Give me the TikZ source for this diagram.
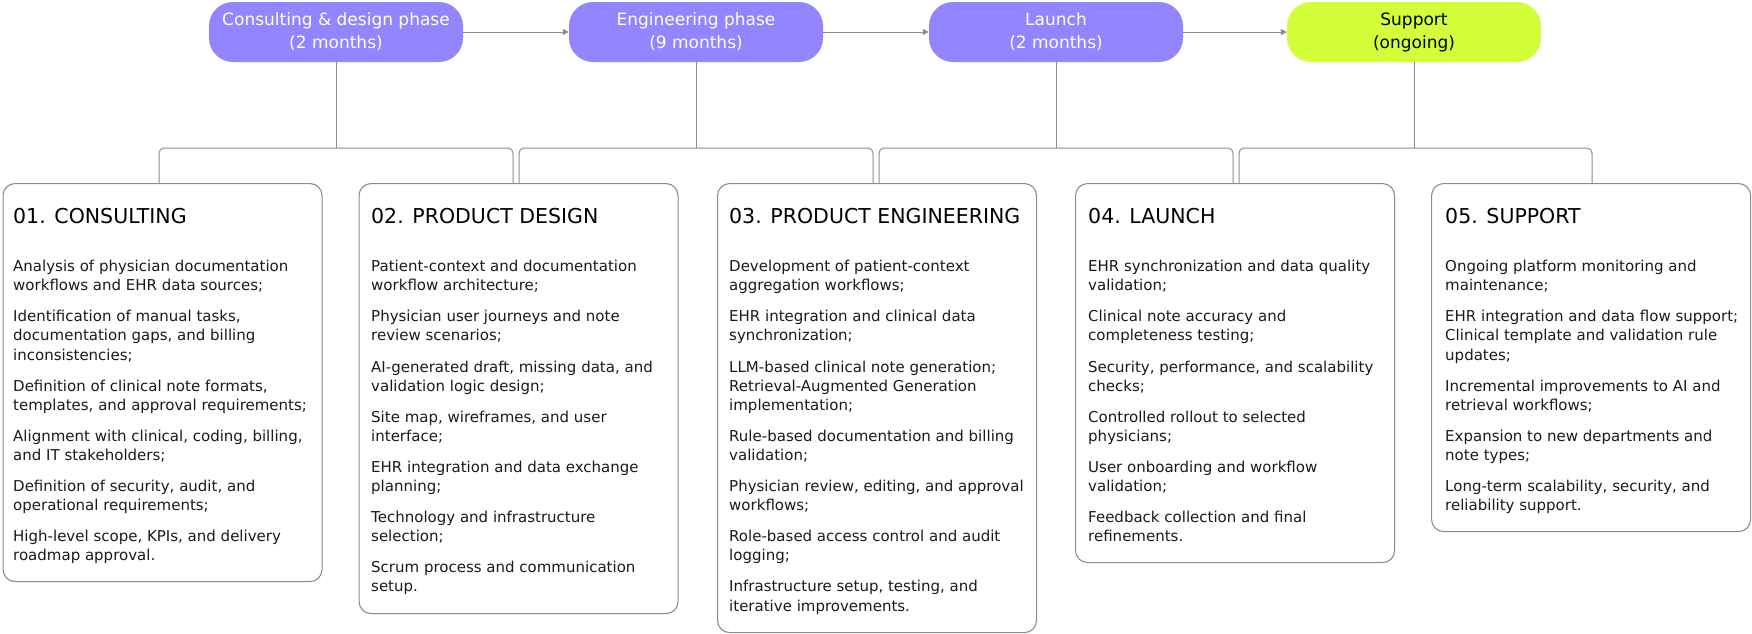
\documentclass[tikz,border=0pt]{standalone}
\usepackage{fontspec}
\setmainfont{DejaVu Sans}
\usetikzlibrary{arrows.meta,calc}
\definecolor{pillc}{HTML}{9484FF}
\definecolor{limec}{HTML}{D2FF3A}
\definecolor{lnc}{HTML}{8C8C8C}
\definecolor{inkc}{HTML}{1A1A1A}
\begin{document}
\begin{tikzpicture}[x=1pt,y=-1pt,
  pillbox/.style={rectangle, rounded corners=24pt, minimum width=254pt, minimum height=60pt,
    inner sep=0pt, fill=pillc, text=white, align=center, font=\fontsize{17}{23}\selectfont},
  supbox/.style={pillbox, fill=limec, text=black},
  cardbox/.style={rectangle, rounded corners=12pt, draw=lnc, line width=1.1pt, minimum width=319pt,
    inner sep=0pt, anchor=north west},
  headtxt/.style={anchor=base west, inner sep=0pt, text=black, font=\fontsize{20.5}{24}\selectfont},
  bodytxt/.style={anchor=north west, inner sep=0pt, text=inkc, align=left, font=\fontsize{15}{19.1}\selectfont},
  conn/.style={draw=lnc, line width=1pt},
  arr/.style={conn, -{Triangle[length=6pt,width=6pt]}}]
\useasboundingbox (0,0) rectangle (1752,633);

% phase pills
\node[pillbox] (p1) at (336,32) {\raisebox{-2pt}{Consulting \& design phase}\\\raisebox{-2pt}{(2 months)}};
\node[pillbox] (p2) at (696,32) {\raisebox{-2pt}{Engineering phase}\\\raisebox{-2pt}{(9 months)}};
\node[pillbox] (p3) at (1056,32) {\raisebox{-2pt}{Launch}\\\raisebox{-2pt}{(2 months)}};
\node[supbox]  (p4) at (1414,32) {\raisebox{-2pt}{Support}\\\raisebox{-2pt}{(ongoing)}};

\draw[arr] (p1.east) -- (p2.west);
\draw[arr] (p2.east) -- (p3.west);
\draw[arr] (p3.east) -- (p4.west);

% cards
\node[cardbox, minimum height=398pt] (b1) at (2.5,183) {};
\node[cardbox, minimum height=430pt] (b2) at (358.5,183) {};
\node[cardbox, minimum height=449pt] (b3) at (717,183) {};
\node[cardbox, minimum height=379pt] (b4) at (1075,183) {};
\node[cardbox, minimum height=348pt] (b5) at (1431,183) {};

% brackets
\coordinate (l1) at (159,148);  \coordinate (r1) at (513,148);
\coordinate (l2) at (519,148);  \coordinate (r2) at (873,148);
\coordinate (l3) at (879,148);  \coordinate (r3) at (1233,148);
\coordinate (l4) at (1239,148); \coordinate (r4) at (1592,148);

\draw[conn] (p1.south) -- (p1.south |- l1);
\draw[conn] (p2.south) -- (p2.south |- l2);
\draw[conn] (p3.south) -- (p3.south |- l3);
\draw[conn] (p4.south) -- (p4.south |- l4);

\draw[conn, rounded corners=5pt] (l1 |- b1.north) -- (l1) -- (r1) -- (r1 |- b2.north);
\draw[conn, rounded corners=5pt] (l2 |- b2.north) -- (l2) -- (r2) -- (r2 |- b3.north);
\draw[conn, rounded corners=5pt] (l3 |- b3.north) -- (l3) -- (r3) -- (r3 |- b4.north);
\draw[conn, rounded corners=5pt] (l4 |- b4.north) -- (l4) -- (r4) -- (r4 |- b5.north);

% headings
\node[headtxt] (h1) at (13,223) {01. CONSULTING};
\node[headtxt] (h2) at (371,223) {02. PRODUCT DESIGN};
\node[headtxt] (h3) at (729,223) {03. PRODUCT ENGINEERING};
\node[headtxt] (h4) at (1088,223) {04. LAUNCH};
\node[headtxt] (h5) at (1445,223) {05. SUPPORT};

% bodies
\node[bodytxt] (t1) at (13,260) {Analysis of physician documentation\\workflows and EHR data sources;\\[12pt]
Identification of manual tasks,\\documentation gaps, and billing\\inconsistencies;\\[12pt]
Definition of clinical note formats,\\templates, and approval requirements;\\[12pt]
Alignment with clinical, coding, billing,\\and IT stakeholders;\\[12pt]
Definition of security, audit, and\\operational requirements;\\[12pt]
High-level scope, KPIs, and delivery\\roadmap approval.};

\node[bodytxt] (t2) at (371,260) {Patient-context and documentation\\workflow architecture;\\[12pt]
Physician user journeys and note\\review scenarios;\\[12pt]
AI-generated draft, missing data, and\\validation logic design;\\[12pt]
Site map, wireframes, and user\\interface;\\[12pt]
EHR integration and data exchange\\planning;\\[12pt]
Technology and infrastructure\\selection;\\[12pt]
Scrum process and communication\\setup.};

\node[bodytxt] (t3) at (729,260) {Development of patient-context\\aggregation workflows;\\[12pt]
EHR integration and clinical data\\synchronization;\\[12pt]
LLM-based clinical note generation;\\Retrieval-Augmented Generation\\implementation;\\[12pt]
Rule-based documentation and billing\\validation;\\[12pt]
Physician review, editing, and approval\\workflows;\\[12pt]
Role-based access control and audit\\logging;\\[12pt]
Infrastructure setup, testing, and\\iterative improvements.};

\node[bodytxt] (t4) at (1088,260) {EHR synchronization and data quality\\validation;\\[12pt]
Clinical note accuracy and\\completeness testing;\\[12pt]
Security, performance, and scalability\\checks;\\[12pt]
Controlled rollout to selected\\physicians;\\[12pt]
User onboarding and workflow\\validation;\\[12pt]
Feedback collection and final\\refinements.};

\node[bodytxt] (t5) at (1445,260) {Ongoing platform monitoring and\\maintenance;\\[12pt]
EHR integration and data flow support;\\Clinical template and validation rule\\updates;\\[12pt]
Incremental improvements to AI and\\retrieval workflows;\\[12pt]
Expansion to new departments and\\note types;\\[12pt]
Long-term scalability, security, and\\reliability support.};
\end{tikzpicture}
\end{document}
